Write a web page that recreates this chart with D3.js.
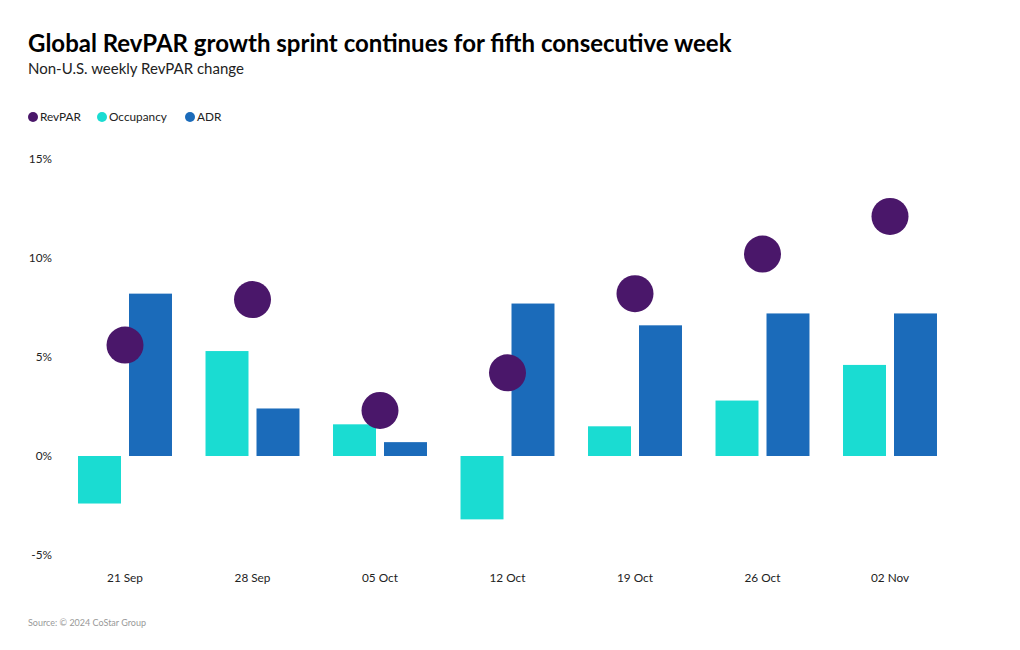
<!DOCTYPE html>
<html>
<head>
<meta charset="utf-8">
<script src="https://cdn.jsdelivr.net/npm/d3@7"></script>
<style>
  html, body { margin: 0; padding: 0; background: #fff; }
  svg { display: block; font-family: Lato, "Noto Sans", sans-serif; }
</style>
</head>
<body>
<svg id="chart" width="1020" height="650"></svg>
<script>
const categories = ["21 Sep", "28 Sep", "05 Oct", "12 Oct", "19 Oct", "26 Oct", "02 Nov"];
const revpar    = [5.6, 7.9, 2.3, 4.2, 8.2, 10.2, 12.1];
const occupancy = [-2.4, 5.3, 1.6, -3.2, 1.5, 2.8, 4.6];
const adr       = [8.2, 2.4, 0.7, 7.7, 6.6, 7.2, 7.2];
const yTicks    = [-5, 0, 5, 10, 15];
const seriesNames = ["RevPAR", "Occupancy", "ADR"];
const colors = { RevPAR: "#4a176a", Occupancy: "#1adcd2", ADR: "#1b6bba" };

const svg = d3.select("#chart");

svg.append("text").attr("x", 28).attr("y", 52)
  .attr("font-size", 24).attr("font-weight", 700).attr("fill", "#000")
  .text("Global RevPAR growth sprint continues for fifth consecutive week");
svg.append("text").attr("x", 28).attr("y", 74)
  .attr("font-size", 15).attr("fill", "#222")
  .text("Non-U.S. weekly RevPAR change");

// legend
const legendX = [33, 102, 190];
const lg = svg.append("g");
seriesNames.forEach((s, i) => {
  lg.append("circle").attr("cx", legendX[i]).attr("cy", 117).attr("r", 5).attr("fill", colors[s]);
  lg.append("text").attr("x", legendX[i] + 7).attr("y", 121).attr("font-size", 11.8).attr("fill", "#222").text(s);
});

const x0 = d3.scaleBand().domain(categories).range([61.25, 953.75]).paddingInner(0.263).paddingOuter(0.1315);
const x1 = d3.scaleBand().domain(["Occupancy", "ADR"]).range([0, x0.bandwidth()]).paddingInner(0.157).paddingOuter(0);
const y = d3.scaleLinear().domain([-5, 15]).range([555, 159]);

// y axis
const yAxis = svg.append("g").attr("transform", "translate(52,0)")
  .call(d3.axisLeft(y).tickValues(yTicks).tickSize(0).tickPadding(0).tickFormat(d => d + "%"));
yAxis.select(".domain").remove();
yAxis.selectAll("text").attr("font-size", 11.8).attr("fill", "#222").attr("font-family", "Lato, sans-serif");

// x axis
const xAxis = svg.append("g").attr("transform", "translate(0,574)")
  .call(d3.axisBottom(x0).tickSize(0).tickPadding(0));
xAxis.select(".domain").remove();
xAxis.selectAll("text").attr("font-size", 11.8).attr("fill", "#222").attr("font-family", "Lato, sans-serif");

const groups = svg.append("g").selectAll("g").data(categories).join("g")
  .attr("transform", d => `translate(${x0(d)},0)`);

groups.append("rect")
  .attr("x", x1("Occupancy")).attr("width", x1.bandwidth())
  .attr("y", (d, i) => y(Math.max(0, occupancy[i])))
  .attr("height", (d, i) => Math.abs(y(occupancy[i]) - y(0)))
  .attr("fill", colors.Occupancy);

groups.append("rect")
  .attr("x", x1("ADR")).attr("width", x1.bandwidth())
  .attr("y", (d, i) => y(Math.max(0, adr[i])))
  .attr("height", (d, i) => Math.abs(y(adr[i]) - y(0)))
  .attr("fill", colors.ADR);

groups.append("circle")
  .attr("cx", x0.bandwidth() / 2)
  .attr("cy", (d, i) => y(revpar[i]))
  .attr("r", 18.5)
  .attr("fill", colors.RevPAR);

svg.append("text").attr("x", 28).attr("y", 626)
  .attr("font-size", 9).attr("fill", "#999")
  .text("Source: © 2024 CoStar Group");
</script>
</body>
</html>
